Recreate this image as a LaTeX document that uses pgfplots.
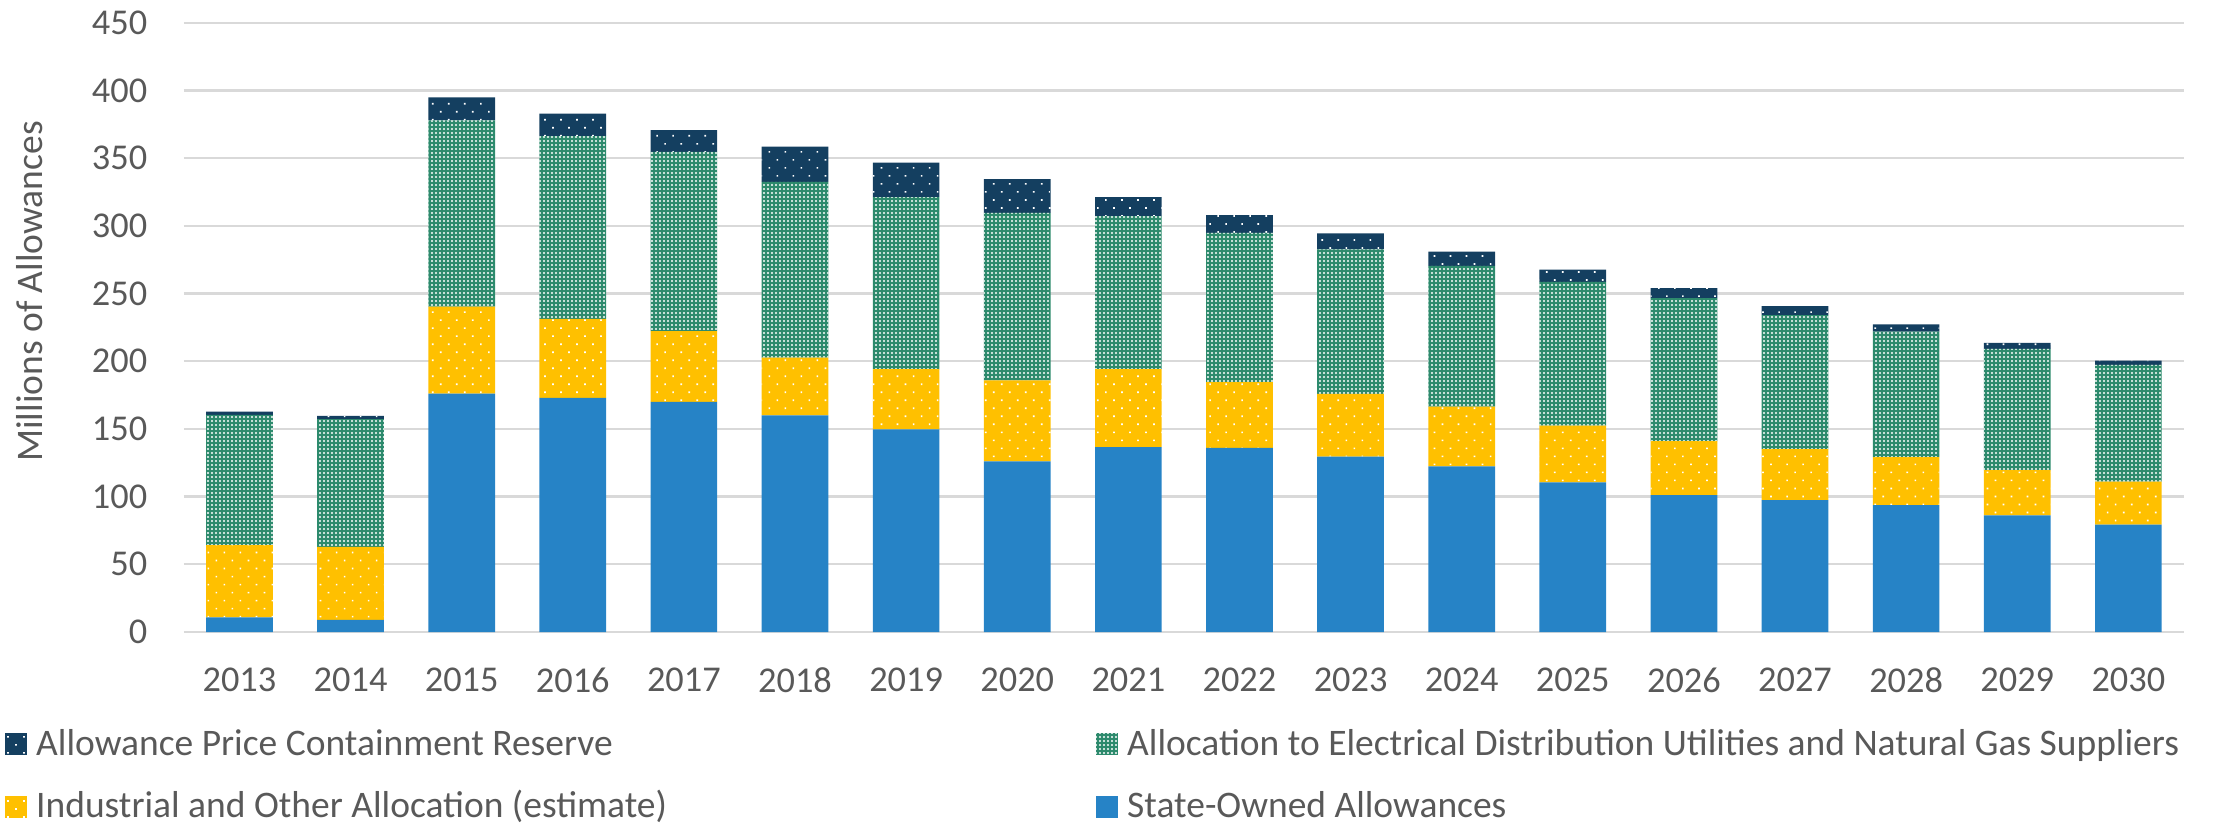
\documentclass[border=0pt]{standalone}
\usepackage{fontspec}
\setmainfont{Carlito}
\usepackage{pgfplots}
\usepackage{pgfplotstable}
\pgfplotsset{compat=1.18}
\usetikzlibrary{patterns.meta}

\definecolor{cblue}{RGB}{38,131,198}
\definecolor{cyellow}{RGB}{255,192,0}
\definecolor{cgreen}{RGB}{44,138,108}
\definecolor{cnavy}{RGB}{20,63,96}
\definecolor{gridc}{RGB}{217,217,217}
\definecolor{labelc}{RGB}{89,89,89}

\pgfplotstableread{
x blue yellow green navy
0  10.8  53.3  96.2  2.5
1  8.9   54.0  94.3  2.4
2  176.1 64.2  137.5 17.1
3  173.0 58.2  135.1 16.5
4  169.9 52.3  132.3 16.1
5  160.0 42.6  129.8 26.1
6  149.7 44.5  127.0 25.5
7  126.0 59.8  123.8 24.9
8  136.6 57.6  113.0 14.0
9  136.0 48.6  110.1 13.1
10 129.5 46.3  106.8 11.8
11 122.3 44.2  103.9 10.6
12 110.5 42.0  106.1 9.0
13 101.1 39.9  105.5 7.4
14 97.4  37.7  98.9  6.6
15 93.7  35.4  92.8  5.3
16 86.2  33.3  89.6  4.4
17 79.4  31.7  86.2  3.1
}\data

\newcommand{\lfont}{\fontsize{10.9pt}{13pt}\selectfont}
\newcommand{\gfont}{\fontsize{11.25pt}{13.5pt}\selectfont}

\begin{document}
\begin{tikzpicture}
\begin{axis}[
  at={(0,0)}, anchor=south west,
  scale only axis, width=600pt, height=182.8pt,
  ybar stacked, bar width=20pt,
  xmin=-0.5, xmax=17.5, ymin=0, ymax=450,
  ytick={0,50,...,450},
  xtick={0,...,17},
  xticklabels={2013,2014,2015,2016,2017,2018,2019,2020,2021,2022,2023,2024,2025,2026,2027,2028,2029,2030},
  axis line style={draw=none},
  major tick length=0pt,
  ymajorgrids, grid style={line width=0.7pt, gridc},
  /pgf/number format/assume math mode=true,
  tick label style={font=\lfont, text=labelc},
  yticklabel style={inner sep=0pt, anchor=east, xshift=-10.8pt},
  xticklabel style={inner sep=0pt, anchor=north, yshift=-10.5pt},
  ylabel={Millions of Allowances},
  every axis y label/.style={at={(axis description cs:-0.0705,0.559)}, rotate=90, anchor=base, font=\gfont, text=labelc},
  legend columns=2,
  reverse legend,
  legend style={at={(0,0)}, anchor=north west, xshift=-53.7pt, yshift=-28.9pt,
    draw=none, fill=none, inner sep=0pt, outer sep=0pt,
    font=\gfont, text=labelc, row sep=8.3pt, column sep=0pt,
    nodes={inner sep=0pt, text height=8pt, text depth=2.5pt},
    cells={anchor=base west}},
  legend image code/.code={%
    \path (0pt,0pt) rectangle (6.6pt,6.6pt);
    \fill[#1,draw=none] (0pt,0pt) rectangle (6.6pt,6.6pt);},
]
\addplot+[fill=cblue, draw=none] table[x=x, y=blue] {\data};
\addlegendentry{\hspace*{2.8pt}State-Owned Allowances}
\addplot+[fill=cyellow, draw=none, postaction={pattern={Dots[distance=3.4pt, radius=0.35pt, angle=45]}, pattern color=white}] table[x=x, y=yellow] {\data};
\addlegendentry{\makebox[320.7pt][l]{\hspace*{2.8pt}Industrial and Other Allocation (estimate)}}
\addplot+[fill=cgreen, draw=none, postaction={pattern={Dots[distance=1.2pt, radius=0.33pt]}, pattern color=white}] table[x=x, y=green] {\data};
\addlegendentry{\hspace*{2.8pt}Allocation to Electrical Distribution Utilities and Natural Gas Suppliers}
\addplot+[fill=cnavy, draw=none, postaction={pattern={Dots[distance=3.4pt, radius=0.35pt, angle=45]}, pattern color=white}] table[x=x, y=navy] {\data};
\addlegendentry{\makebox[320.7pt][l]{\hspace*{2.8pt}Allowance Price Containment Reserve}}
\end{axis}
\pgfresetboundingbox
\useasboundingbox (-55.17pt,-57.9pt) rectangle (610.53pt,189.6pt);
\end{tikzpicture}
\end{document}
